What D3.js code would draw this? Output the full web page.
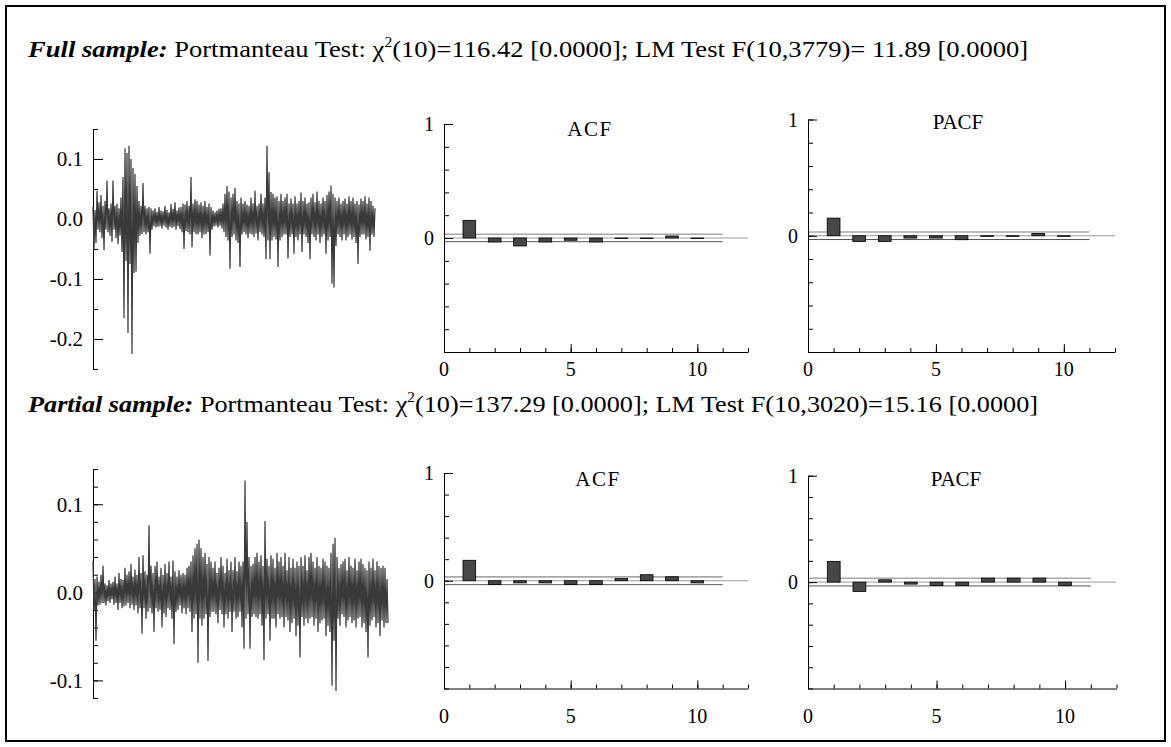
<!DOCTYPE html>
<html><head><meta charset="utf-8">
<script src="https://cdn.jsdelivr.net/npm/d3@7"></script>
<style>
body{margin:0;background:#fff}
svg{display:block}
text{font-family:"Liberation Serif","Times New Roman",serif;fill:#000}
</style>
</head><body>
<svg id="c" width="1171" height="747"></svg>
<script>
// ---------------- DATA ----------------
// Residual series (values in thousandths)
const fullSeries = [
20,-50,15,-40,47,-18,28,-22,40,-32,
22,-52,30,-18,64,-22,18,-28,26,-38,
64,-18,22,-32,26,-42,18,-28,36,-55,
70,-165,118,-70,110,-190,122,-75,100,-225,
85,-90,75,-88,55,-40,30,-28,22,-25,
60,-22,22,-26,18,-22,20,-58,18,-18,
14,-12,18,-14,12,-13,20,-12,14,-16,
13,-11,22,-14,15,-18,11,-13,25,-15,
17,-13,28,-18,14,-12,19,-17,20,-22,
26,-50,24,-20,30,-22,22,-26,70,-47,
26,-22,33,-25,30,-26,24,-22,28,-32,
22,-26,30,-25,20,-22,26,-61,20,-18,
14,-13,11,-11,14,-14,17,-11,18,-16,
26,-22,42,-30,55,-36,46,-83,36,-30,
42,-26,52,-36,30,-40,26,-80,36,-26,
26,-22,30,-26,24,-32,22,-24,36,-26,
26,-30,47,-24,22,-36,26,-22,42,-26,
26,-30,36,-67,122,-36,78,-67,45,-36,
42,-30,36,-34,38,-80,30,-36,42,-30,
30,-26,36,-26,42,-66,26,-30,34,-26,
26,-58,38,-30,26,-36,30,-26,44,-55,
30,-26,36,-30,26,-40,28,-67,36,-26,
42,-30,28,-36,46,-26,30,-40,26,-30,
36,-26,30,-58,40,-36,46,-30,56,-108,
42,-114,36,-45,30,-26,36,-30,26,-36,
30,-26,34,-36,26,-30,38,-26,30,-34,
36,-30,26,-40,30,-75,24,-30,34,-26,
30,-26,38,-34,26,-30,36,-53,30,-26,
22,-30,18
];
const partialSeries = [
35,-20,15,-55,18,-15,12,-14,20,-12,
30,-12,10,-15,8,-10,14,-12,10,-8,
12,-14,18,-12,10,-20,22,-12,15,-18,
14,-16,28,-15,20,-12,24,-18,32,-14,
18,-20,26,-15,20,-24,40,-18,22,-47,
42,-18,24,-30,20,-22,76,-18,30,-24,
22,-45,30,-18,35,-22,18,-20,28,-40,
20,-24,32,-28,22,-18,35,-20,18,-30,
36,-59,24,-22,18,-20,25,-15,20,-24,
22,-18,20,-25,28,-18,30,-22,35,-45,
42,-30,50,-25,55,-80,60,-30,50,-38,
40,-30,45,-25,32,-78,40,-28,35,-22,
28,-22,35,-25,22,-35,28,-20,40,-25,
30,-40,22,-25,38,-30,25,-22,35,-45,
25,-22,40,-30,24,-28,35,-22,30,-40,
35,-64,127,-30,80,-25,40,-64,30,-28,
32,-25,40,-28,45,-30,35,-25,42,-38,
30,-77,81,-30,38,-25,30,-55,42,-30,
38,-30,28,-40,45,-25,35,-30,40,-28,
30,-40,45,-28,25,-32,40,-45,28,-35,
38,-30,28,-50,35,-38,30,-74,40,-28,
30,-38,42,-30,25,-35,40,-30,45,-28,
35,-38,28,-30,40,-45,30,-35,28,-32,
38,-30,35,-50,30,-38,28,-45,45,-106,
55,-55,62,-112,40,-30,28,-38,32,-25,
35,-28,38,-40,25,-32,40,-28,30,-35,
28,-32,38,-40,25,-30,35,-28,38,-40,
32,-35,28,-45,25,-74,35,-38,28,-32,
38,-28,25,-40,35,-35,30,-50,28,-32,
30,-40,28,-35,15,-35
];

const lags = [1,2,3,4,5,6,7,8,9,10];
const fullACF     = [0.155,-0.035,-0.070,-0.035,-0.020,-0.035,-0.005,-0.005,0.018,-0.005];
const fullPACF    = [0.152,-0.049,-0.049,-0.020,-0.020,-0.034,-0.005,-0.005,0.020,-0.005];
const partialACF  = [0.190,-0.034,-0.020,-0.020,-0.034,-0.034,0.020,0.056,0.037,-0.020];
const partialPACF = [0.195,-0.088,0.022,-0.019,-0.031,-0.031,0.038,0.038,0.038,-0.031];
const fullObs = 3790, partialObs = 3031;

const fullTsMajor = [0.1, 0.0, -0.1, -0.2];
const fullTsLabels = ["0.1", "0.0", "-0.1", "-0.2"];
const partialTsMajor = [0.1, 0.0, -0.1];
const partialTsLabels = ["0.1", "0.0", "-0.1"];
const corrXTicks = [0, 5, 10];
const corrXLabels = ["0", "5", "10"];
const corrYTicks = [1, 0];
const corrYLabels = ["1", "0"];

const fullTitle = ["Full sample:", " Portmanteau Test: \u03C7", "2", "(10)=116.42 [0.0000]; LM Test F(10,3779)= 11.89 [0.0000]"];
const partialTitle = ["Partial sample:", " Portmanteau Test: \u03C7", "2", "(10)=137.29 [0.0000]; LM Test F(10,3020)=15.16 [0.0000]"];

// ---------------- DRAW ----------------
const svg = d3.select("#c");
svg.append("rect").attr("x",6).attr("y",6).attr("width",1159).attr("height",735)
  .attr("fill","none").attr("stroke","#000").attr("stroke-width",2);

function title(parts, y, xEnd){
  const t = svg.append("text").attr("x",0).attr("y",0).style("font-size","24px");
  t.append("tspan").text(parts[0]).style("font-weight","bold").style("font-style","italic");
  t.append("tspan").text(parts[1]);
  t.append("tspan").text(parts[2]).style("font-size","14px").attr("dy",-10);
  t.append("tspan").text(parts[3]).attr("dy",10);
  const w = t.node().getBBox().width;
  t.attr("transform",`translate(28,${y}) scale(${(xEnd-28)/w},1)`);
}
title(fullTitle, 57, 1030);
title(partialTitle, 412, 1040);

function series(data, g, tickMajor, tickLabels, minorStep){
  const x = d3.scaleLinear().domain([0, data.length-1]).range([g.x0, g.x1]);
  const y = d3.scaleLinear().domain(g.dom).range([g.yb, g.yt]);
  const minor = d3.range(Math.round(g.dom[0]/minorStep), Math.round(g.dom[1]/minorStep)+1).map(k=>k*minorStep);
  svg.append("g").attr("transform",`translate(${g.x0},0)`)
    .call(d3.axisRight(y).tickValues(minor).tickSize(5).tickSizeOuter(5).tickFormat(""))
    .call(s=>s.selectAll("path,line").attr("stroke","#000"));
  svg.append("g").attr("transform",`translate(${g.x0},0)`)
    .call(d3.axisRight(y).tickValues(tickMajor).tickSize(10).tickSizeOuter(0).tickFormat(""))
    .call(s=>s.select(".domain").remove());
  svg.append("g").selectAll("text").data(tickMajor).join("text")
    .attr("x", g.x0-10).attr("y", d=>y(d)).attr("dy","0.35em")
    .attr("text-anchor","end").style("font-size","21px")
    .text((d,i)=>tickLabels[i]);
  svg.append("path").datum(data)
    .attr("d", d3.line().x((d,i)=>x(i)).y(d=>y(d/1000)))
    .attr("fill","none").attr("stroke","#3a3a3a").attr("stroke-width",1.25);
}
series(fullSeries, {x0:93,x1:375,yt:129,yb:369,dom:[-0.25,0.15]}, fullTsMajor, fullTsLabels, 0.05);
series(partialSeries, {x0:93,x1:388,yt:469,yb:698,dom:[-0.12,0.14]}, partialTsMajor, partialTsLabels, 0.02);

function corr(vals, obs, g, name){
  const x = d3.scaleLinear().domain([0,12]).range([g.x0, g.x1]);
  const y = d3.scaleLinear().domain([-1,1]).range([g.yb, g.yt]);
  const band = 2/Math.sqrt(obs);
  svg.append("line").attr("x1",x(0)).attr("x2",x(12)).attr("y1",y(0)).attr("y2",y(0))
    .attr("stroke","#9a9a9a").attr("stroke-width",1);
  svg.append("line").attr("x1",x(0)).attr("x2",x(11)).attr("y1",y(band)).attr("y2",y(band))
    .attr("stroke","#a8a8a8").attr("stroke-width",1.6);
  svg.append("line").attr("x1",x(0)).attr("x2",x(11)).attr("y1",y(-band)).attr("y2",y(-band))
    .attr("stroke","#555").attr("stroke-width",1);
  svg.append("g").selectAll("rect").data(vals).join("rect")
    .attr("x",(d,i)=>x(lags[i]-0.25)).attr("width",x(0.5)-x(0))
    .attr("y",d=>y(Math.max(0,d))).attr("height",d=>Math.abs(y(d)-y(0)))
    .attr("fill","#474747").attr("stroke","#000").attr("stroke-width",0.8);
  svg.append("g").attr("transform",`translate(${g.x0},0)`)
    .call(d3.axisRight(y).tickValues(d3.range(-5,6).map(k=>k*0.2)).tickSize(5).tickSizeOuter(0).tickFormat(""));
  svg.append("g").attr("transform",`translate(${g.x0},0)`)
    .call(d3.axisRight(y).tickValues(corrYTicks).tickSize(9).tickSizeOuter(0).tickFormat(""))
    .call(s=>s.select(".domain").remove());
  svg.append("g").attr("transform",`translate(0,${g.yb})`)
    .call(d3.axisTop(x).tickValues(d3.range(0,13)).tickSize(4).tickSizeOuter(0).tickFormat(""));
  svg.append("g").attr("transform",`translate(0,${g.yb})`)
    .call(d3.axisTop(x).tickValues(corrXTicks).tickSize(8).tickSizeOuter(0).tickFormat(""))
    .call(s=>s.select(".domain").remove());
  svg.append("g").selectAll("text").data(corrXTicks).join("text")
    .attr("x",d=>x(d)).attr("y",g.yb+g.lab).attr("text-anchor","middle").style("font-size","20px")
    .text((d,i)=>corrXLabels[i]);
  svg.append("g").selectAll("text").data(corrYTicks).join("text")
    .attr("x",g.x0-10).attr("y",d=>y(d)).attr("dy","0.35em").attr("text-anchor","end").style("font-size","20px")
    .text((d,i)=>corrYLabels[i]);
  svg.append("text").attr("x",g.tx).attr("y",g.ty).attr("text-anchor","middle")
    .style("font-size","21px").style("letter-spacing", name==="ACF" ? "1.5px" : "0px").text(name);
}
corr(fullACF, fullObs, {x0:444,x1:748,yt:124,yb:352,lab:24,tx:590,ty:136}, "ACF");
corr(fullPACF, fullObs, {x0:808,x1:1115,yt:119.5,yb:352,lab:24,tx:958,ty:129}, "PACF");
corr(partialACF, partialObs, {x0:444,x1:748,yt:473,yb:688.5,lab:34,tx:598,ty:486}, "ACF");
corr(partialPACF, partialObs, {x0:808,x1:1116.5,yt:475.7,yb:688.5,lab:34,tx:956,ty:486}, "PACF");
</script>
</body></html>
